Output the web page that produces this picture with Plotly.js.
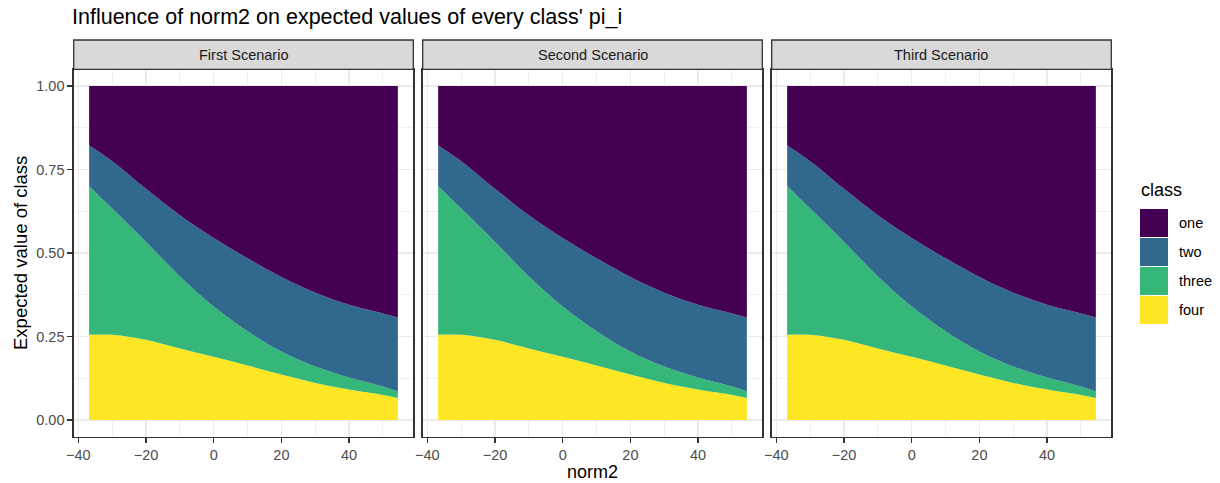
<!DOCTYPE html>
<html>
<head>
<meta charset="utf-8">
<script src="https://cdn.plot.ly/plotly-3.0.1.min.js"></script>
<style>html,body{margin:0;padding:0;background:#fff;}#chart{width:1220px;height:483px;}</style>
</head>
<body>
<div id="chart"></div>
<script>
// ---- data ----
const norm2 = [-36.8, -30, -20, -10, 0, 10, 20, 30, 40, 50, 54.4];
const classOne   = [0.178, 0.225, 0.308, 0.387, 0.455, 0.516, 0.572, 0.619, 0.655, 0.681, 0.693];
const classTwo   = [0.122, 0.142, 0.159, 0.183, 0.205, 0.218, 0.223, 0.221, 0.218, 0.219, 0.222];
const classThree = [0.445, 0.378, 0.293, 0.216, 0.151, 0.103, 0.069, 0.049, 0.036, 0.025, 0.019];
const classFour  = [0.255, 0.255, 0.240, 0.214, 0.189, 0.163, 0.136, 0.111, 0.091, 0.075, 0.066];
const scenarios = ['First Scenario', 'Second Scenario', 'Third Scenario'];
const classNames = ['one', 'two', 'three', 'four'];
const xTickVals = [-40, -20, 0, 20, 40];
const yTickVals = [0, 0.25, 0.5, 0.75, 1];

// ---- styling ----
const W = 1220, H = 483;
const FONT = '"Liberation Sans", Arial, Helvetica, sans-serif';
const colors = {one: '#440154', two: '#31688E', three: '#35B779', four: '#FDE725'};
const seriesByClass = {one: classOne, two: classTwo, three: classThree, four: classFour};
const px = x => x / W;
const py = y => 1 - y / H;

const panelLeft = [73.7, 422.7, 771.7];
const panelWidth = 339.6;
const panelTop = 69.3, panelBottom = 436.7, stripTop = 40;

const traces = [];
const layout = {
  width: W, height: H,
  margin: {l: 0, r: 0, t: 0, b: 0},
  paper_bgcolor: '#ffffff',
  plot_bgcolor: '#ffffff',
  showlegend: false,
  font: {family: FONT, color: '#000'},
  shapes: [],
  annotations: []
};

const stackOrder = ['four', 'three', 'two', 'one'];

scenarios.forEach((sc, i) => {
  const sfx = i === 0 ? '' : String(i + 1);
  const xa = 'x' + sfx, ya = 'y' + sfx;
  stackOrder.forEach(cls => {
    traces.push({
      type: 'scatter', mode: 'lines',
      x: norm2, y: seriesByClass[cls],
      xaxis: xa, yaxis: ya,
      stackgroup: 'sg' + i,
      name: cls,
      line: {width: 0, shape: 'spline', smoothing: 1, color: colors[cls]},
      fillcolor: colors[cls],
      hoverinfo: 'x+y+name'
    });
  });
  const dom = [px(panelLeft[i]), px(panelLeft[i] + panelWidth)];
  const common = {
    showline: true, mirror: true, linecolor: '#333333', linewidth: 1.3,
    showgrid: true, gridcolor: '#EBEBEB', gridwidth: 1.3,
    zeroline: false,
    ticks: 'outside', ticklen: 5, tickcolor: '#333333', tickwidth: 1.3,
    tickfont: {family: FONT, size: 14.5, color: '#4D4D4D'},
    fixedrange: true
  };
  layout['xaxis' + sfx] = Object.assign({}, common, {
    domain: dom, anchor: ya, range: [-41.36, 58.96],
    tickmode: 'array', tickvals: xTickVals,
    minor: {dtick: 10, tick0: -30, showgrid: true, gridcolor: '#EBEBEB', gridwidth: 0.7, ticks: ''}
  });
  layout['yaxis' + sfx] = Object.assign({}, common, {
    domain: [py(panelBottom), py(panelTop)], anchor: xa, range: [-0.05, 1.05],
    tickmode: 'array', tickvals: yTickVals, tickformat: '.2f',
    showticklabels: i === 0, ticks: i === 0 ? 'outside' : '',
    minor: {dtick: 0.25, tick0: 0.125, showgrid: true, gridcolor: '#EBEBEB', gridwidth: 0.7, ticks: ''}
  });
  // strip
  layout.shapes.push({
    type: 'rect', xref: 'paper', yref: 'paper',
    x0: px(panelLeft[i]), x1: px(panelLeft[i] + panelWidth),
    y0: py(panelTop), y1: py(stripTop),
    fillcolor: '#D9D9D9', line: {color: '#333333', width: 1.3}, layer: 'above'
  });
  layout.annotations.push({
    xref: 'paper', yref: 'paper',
    x: px(panelLeft[i] + panelWidth / 2), y: py((panelTop + stripTop) / 2),
    xanchor: 'center', yanchor: 'middle', showarrow: false,
    text: sc, font: {family: FONT, size: 14.5, color: '#1A1A1A'}
  });
});

// title & axis titles
layout.annotations.push({
  xref: 'paper', yref: 'paper', x: px(70), y: py(17), xanchor: 'left', yanchor: 'middle',
  showarrow: false, text: "Influence of norm2 on expected values of every class' pi_i",
  font: {family: FONT, size: 21.5, color: '#000'}
});
layout.annotations.push({
  xref: 'paper', yref: 'paper', x: px(592.5), y: py(471.5), xanchor: 'center', yanchor: 'middle',
  showarrow: false, text: 'norm2', font: {family: FONT, size: 18, color: '#000'}
});
layout.annotations.push({
  xref: 'paper', yref: 'paper', x: px(20), y: py(253), xanchor: 'center', yanchor: 'middle',
  showarrow: false, textangle: -90, text: 'Expected value of class', font: {family: FONT, size: 18.5, color: '#000'}
});

// legend (drawn manually as ggplot-style keys)
layout.annotations.push({
  xref: 'paper', yref: 'paper', x: px(1139), y: py(190), xanchor: 'left', yanchor: 'middle',
  showarrow: false, text: 'class', font: {family: FONT, size: 18, color: '#000'}
});
classNames.forEach((cls, k) => {
  const top = 209 + k * 29;
  layout.shapes.push({
    type: 'rect', xref: 'paper', yref: 'paper',
    x0: px(1140), x1: px(1168), y0: py(top + 28), y1: py(top),
    fillcolor: colors[cls], line: {width: 0}
  });
  layout.annotations.push({
    xref: 'paper', yref: 'paper', x: px(1177), y: py(top + 14), xanchor: 'left', yanchor: 'middle',
    showarrow: false, text: cls, font: {family: FONT, size: 14.5, color: '#000'}
  });
});

Plotly.newPlot('chart', traces, layout, {displayModeBar: false, staticPlot: true});
</script>
</body>
</html>
